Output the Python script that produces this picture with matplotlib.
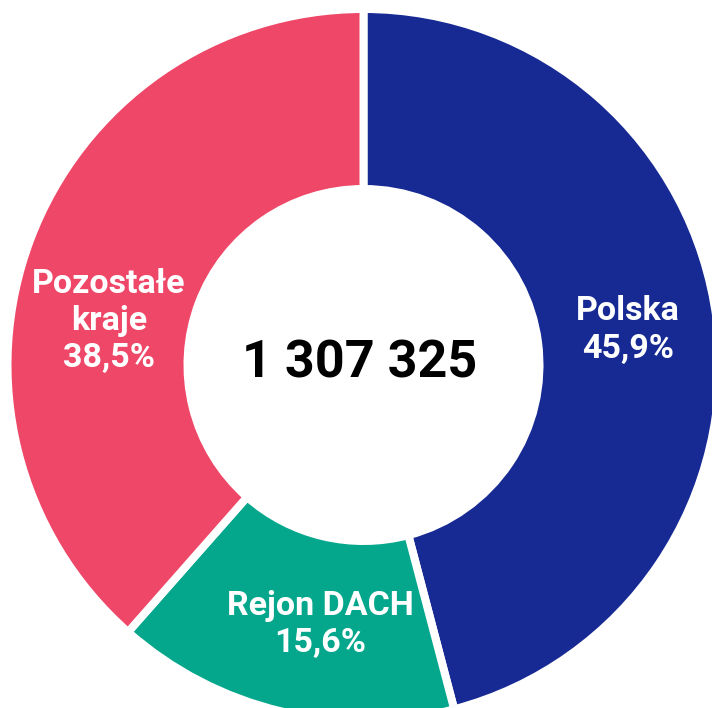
import matplotlib
matplotlib.use("Agg")
import matplotlib.pyplot as plt

# Data
categories = ["Polska", "Rejon DACH", "Pozostałe\nkraje"]
shares = [45.9, 15.6, 38.5]
share_labels = ["45,9%", "15,6%", "38,5%"]
total_label = "1 307 325"

colors = ["#172A94", "#04A78C", "#EF4768"]

W, H = 712, 708
fig = plt.figure(figsize=(W / 100, H / 100), dpi=100)
ax = fig.add_axes([0, 0, 1, 1])

cx, cy = 363.5, H - 365
lw_px = 8
R = 352 + lw_px / 2
r_in = 180 - lw_px / 2

ax.pie(shares, colors=colors, startangle=90, counterclock=False,
       center=(cx, cy), radius=R, frame=True,
       wedgeprops=dict(width=R - r_in, edgecolor="white", linewidth=lw_px * 72 / 100))
ax.set_xlim(0, W)
ax.set_ylim(0, H)
ax.set_aspect("auto")
ax.axis("off")

# label positions (pixel coords from top-left)
label_pos = [(628, 330), (320, 624), (109, 321)]
font = dict(family="Roboto", weight="bold")
for cat, pl, (px, py) in zip(categories, share_labels, label_pos):
    ax.text(px, H - py, f"{cat}\n{pl}", ha="center", va="center", color="white",
            fontsize=24.5, linespacing=1.2, **font)

ax.text(360, H - 364, total_label, ha="center", va="center", color="black",
        fontsize=37.5, **font)

fig.savefig("out.png", dpi=100)
